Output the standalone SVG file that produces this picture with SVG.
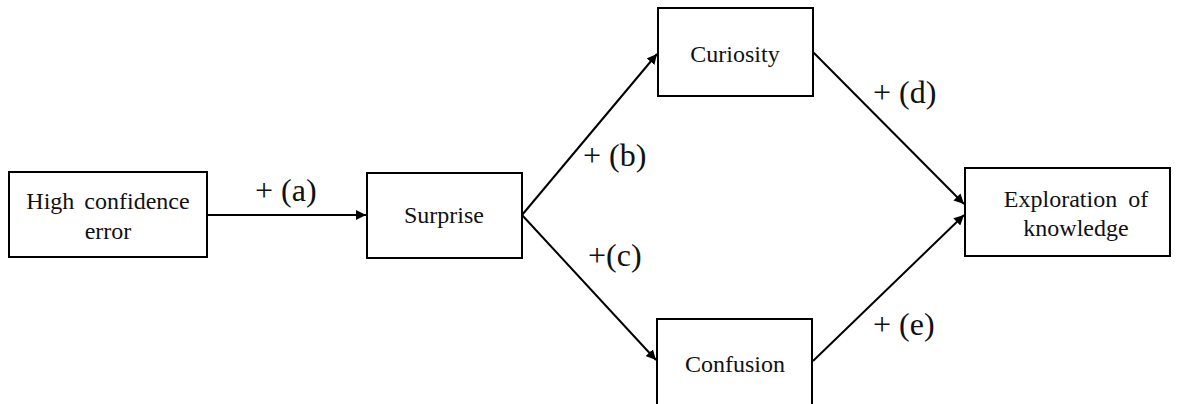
<svg xmlns="http://www.w3.org/2000/svg" width="1177" height="404" viewBox="0 0 1177 404">
<style>
.box{fill:#fff;stroke:#000;stroke-width:2}
.t{font-family:"Liberation Serif","Times New Roman",serif;font-size:24px;fill:#111;text-anchor:middle}
.lbl{font-family:"Liberation Serif","Times New Roman",serif;font-size:32px;fill:#111}
.c{stroke:#000;stroke-width:2;fill:none;marker-end:url(#ah)}
</style>
<defs>
<marker id="ah" viewBox="0 0 10 10" refX="10" refY="5" markerWidth="10" markerHeight="10" markerUnits="userSpaceOnUse" orient="auto">
<path d="M0,0 L10,5 L0,10 z" fill="#000"/>
</marker>
</defs>
<rect width="1177" height="404" fill="#fff"/>
<g id="connectors">
<line class="c" x1="207" y1="215" x2="366" y2="215"/>
<line class="c" x1="522" y1="215" x2="657" y2="54"/>
<line class="c" x1="522" y1="215" x2="656" y2="360"/>
<line class="c" x1="813" y1="52" x2="964" y2="204"/>
<line class="c" x1="813" y1="361" x2="964" y2="215"/>
<text class="lbl" x="255" y="201">+ (a)</text>
<text class="lbl" x="583" y="166">+ (b)</text>
<text class="lbl" x="588" y="266">+(c)</text>
<text class="lbl" x="873" y="103">+ (d)</text>
<text class="lbl" x="873" y="335">+ (e)</text>
</g>
<g id="high-confidence-error">
<rect class="box" x="9" y="172" width="198" height="85"/>
<text class="t" x="108" y="209" style="word-spacing:4px">High confidence</text>
<text class="t" x="108" y="239">error</text>
</g>
<g id="surprise">
<rect class="box" x="367" y="173" width="155" height="85"/>
<text class="t" x="444" y="223">Surprise</text>
</g>
<g id="curiosity">
<rect class="box" x="658" y="8" width="155" height="88"/>
<text class="t" x="735" y="62">Curiosity</text>
</g>
<g id="confusion">
<rect class="box" x="657" y="319" width="155" height="95"/>
<text class="t" x="735" y="372">Confusion</text>
</g>
<g id="exploration-of-knowledge">
<rect class="box" x="965" y="168" width="205" height="88"/>
<text class="t" x="1076" y="207" style="word-spacing:5px">Exploration of</text>
<text class="t" x="1076" y="236">knowledge</text>
</g>
</svg>
